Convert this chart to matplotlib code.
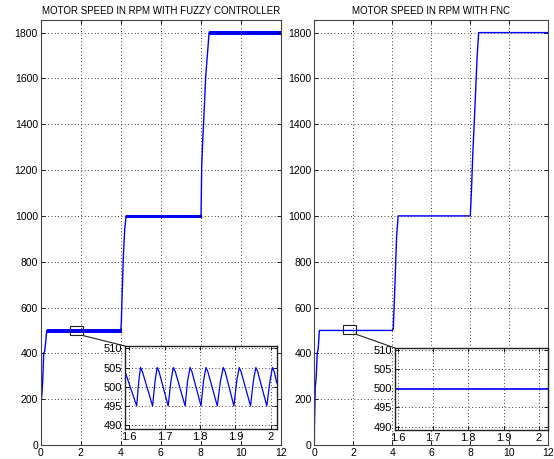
import matplotlib
matplotlib.use("Agg")
import matplotlib.pyplot as plt
from matplotlib.patches import Rectangle, ConnectionPatch
import numpy as np

plt.rcParams['font.family'] = ['Liberation Sans', 'DejaVu Sans']

# ---------------- data ----------------
titles = ["MOTOR SPEED IN RPM WITH FUZZY CONTROLLER", "MOTOR SPEED IN RPM WITH FNC"]

# Fuzzy controller: step response key points (s, rpm)
fuzzy_t = [0, 0.01, 0.03, 0.05, 0.1, 0.15, 0.2, 0.25, 0.3, 4.0, 4.03, 4.07, 4.13, 4.2, 4.27,
           8.0, 8.02, 8.05, 8.1, 8.16, 8.25, 8.35, 8.42, 12]
fuzzy_rpm = [0, 80, 200, 210, 280, 400, 410, 450, 500, 500, 530, 650, 820, 940, 1000,
             1000, 1011, 1214, 1330, 1433, 1608, 1720, 1800, 1800]
# steady-state holds (start, end, setpoint) and ripple amplitude of fuzzy controller
fuzzy_holds = [(0.3, 4.0, 500), (4.27, 8.0, 1000), (8.42, 12.0, 1800)]
fuzzy_ripple = 5

# FNC: step response key points
fnc_t = [0, 0.01, 0.05, 0.1, 0.15, 0.2, 0.26, 4.0, 4.05, 4.1, 4.15, 4.22, 4.3,
         8.0, 8.06, 8.13, 8.2, 8.27, 8.35, 8.43, 12]
fnc_rpm = [0, 90, 255, 300, 400, 420, 500, 500, 508, 619, 734, 909, 1000,
           1000, 1112, 1274, 1405, 1536, 1695, 1800, 1800]

# zoomed ripple of fuzzy controller (inset)
ins_fuzzy_t = [1.588, 1.621, 1.627, 1.632, 1.637, 1.666, 1.673, 1.679, 1.684, 1.710, 1.718,
               1.7245, 1.730, 1.758, 1.765, 1.772, 1.777, 1.803, 1.810, 1.817, 1.822, 1.849,
               1.858, 1.866, 1.871, 1.896, 1.904, 1.911, 1.916, 1.943, 1.951, 1.958, 1.963,
               1.989, 1.998, 2.005, 2.010, 2.017]
ins_fuzzy_rpm = [504.0, 495, 501.5, 505, 504, 495, 501.5, 505, 504, 495, 501.5,
                 505, 504, 495, 501.5, 505, 504, 495, 501.5, 505, 504, 495,
                 501.5, 505, 504, 495, 501.5, 505, 504, 495, 501.5, 505, 504,
                 495, 501.5, 505, 504, 501]
ins_fnc_t = [1.59, 2.03]
ins_fnc_rpm = [499.8, 499.8]

main_xticks = [0, 2, 4, 6, 8, 10, 12]
main_yticks = [0, 200, 400, 600, 800, 1000, 1200, 1400, 1600, 1800]
ins_xticks = [1.6, 1.7, 1.8, 1.9, 2.0]
ins_xticklabels = ["1.6", "1.7", "1.8", "1.9", "2"]
ins_yticks = [490, 495, 500, 505, 510]

# zoom boxes on main plots (t0, t1, rpm0, rpm1)
boxes = [(1.45, 2.1, 478, 518), (1.49, 2.12, 484, 522)]

# ---------------- layout ----------------
W, H = 554, 459
fig = plt.figure(figsize=(W / 100, H / 100), dpi=100)

def px_axes(x0, x1, ytop, ybot):
    return fig.add_axes([x0 / W, (H - ybot) / H, (x1 - x0) / W, (ybot - ytop) / H])

ax_main = [px_axes(40.7, 280.7, 20, 445), px_axes(314.3, 548.3, 20, 445)]
ax_ins = [px_axes(125, 276.7, 346, 429), px_axes(395, 548, 348, 430)]

blue = (0, 0, 1)
grid_kw = dict(color='black', linestyle=(0, (1, 3)), linewidth=0.6)

def style(ax, fs):
    ax.tick_params(direction='in', length=3, width=0.6, top=True, right=True,
                   labelsize=fs, pad=2, colors='black')
    for s in ax.spines.values():
        s.set_color('#444444')
        s.set_linewidth(0.8)
    ax.grid(True, **grid_kw)

# main plots
for i, ax in enumerate(ax_main):
    if i == 0:
        ax.plot(fuzzy_t, fuzzy_rpm, color=blue, lw=1)
        for (a, b, lvl) in fuzzy_holds:
            ax.fill_between([a, b], [lvl - fuzzy_ripple] * 2, [lvl + fuzzy_ripple] * 2,
                            color=blue, lw=0.7, edgecolor=blue)
    else:
        ax.plot(fnc_t, fnc_rpm, color=blue, lw=1)
    ax.set_xlim(0, 12)
    ax.set_ylim(0, 1855)
    ax.set_xticks(main_xticks)
    ax.set_yticks(main_yticks)
    style(ax, 7.5)
    ax.set_title(titles[i], fontsize=7.0, pad=4)

    t0, t1, r0, r1 = boxes[i]
    ax.add_patch(Rectangle((t0, r0), t1 - t0, r1 - r0, fill=False,
                           edgecolor='#222222', lw=0.8, zorder=5))

# insets
for i, ax in enumerate(ax_ins):
    if i == 0:
        ax.plot(ins_fuzzy_t, ins_fuzzy_rpm, color=blue, lw=0.9)
        ax.set_xlim(1.588, 2.017)
        ax.set_ylim(489.0, 510.6)
    else:
        ax.plot(ins_fnc_t, ins_fnc_rpm, color=blue, lw=1.2)
        ax.set_xlim(1.592, 2.026)
        ax.set_ylim(489.1, 510.5)
    ax.set_facecolor('white')
    ax.set_xticks(ins_xticks)
    ax.set_xticklabels(ins_xticklabels)
    ax.set_yticks(ins_yticks)
    style(ax, 8)
    for s in ax.spines.values():
        s.set_color('#222222')
        s.set_linewidth(1.0)

    t0, t1, r0, r1 = boxes[i]
    con = ConnectionPatch(xyA=(t1, r0), coordsA=ax_main[i].transData,
                          xyB=(0, 1), coordsB=ax.transAxes,
                          color='#222222', lw=0.8)
    fig.add_artist(con)

fig.savefig("out.png", dpi=100)
